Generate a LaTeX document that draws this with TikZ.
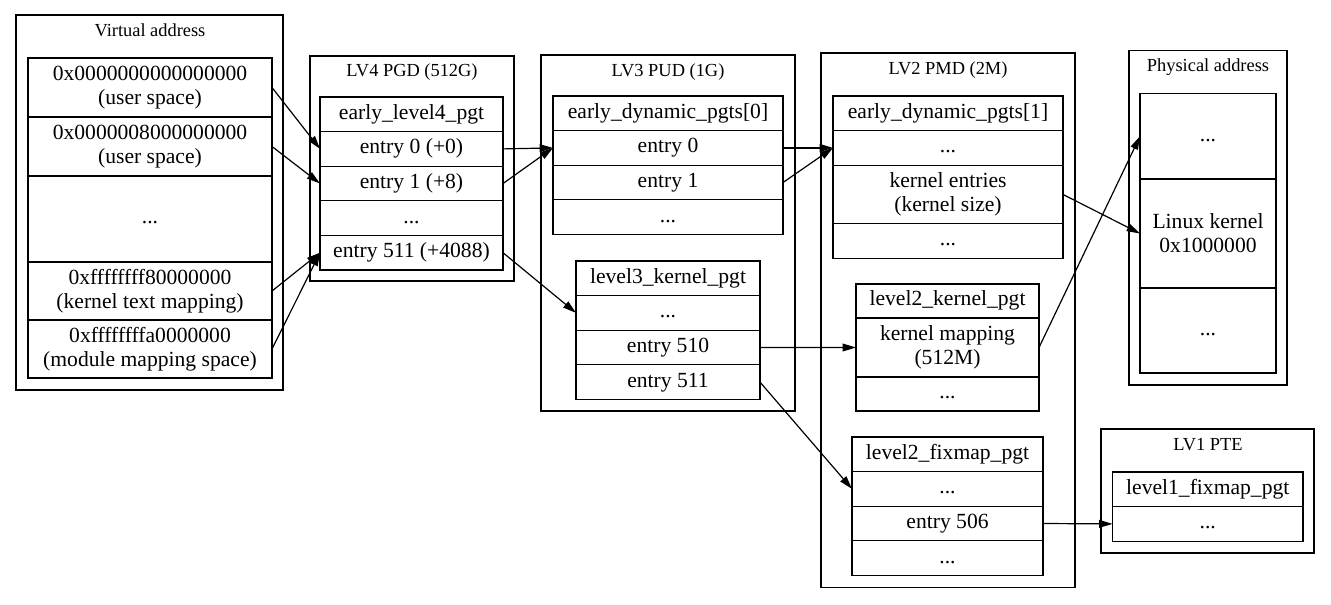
\documentclass[tikz,border=0pt]{standalone}
\usepackage{fontspec}
\setmainfont{Liberation Serif}
\usetikzlibrary{fit,positioning,arrows.meta}
\tikzset{
  cell/.style={draw, inner sep=0pt, outer sep=0pt, align=center, minimum height=34.6*0.75pt,
    text height=11pt, text depth=3.6pt, font=\fontsize{16.2}{18}\selectfont},
  two/.style={text height=, text depth=},
  rec/.style={minimum width=#1*0.75pt},
  tall/.style={minimum height=#1*0.75pt},
  frame/.style={draw, inner sep=0pt},
  title/.style={anchor=base, font=\fontsize{13.8}{16}\selectfont},
  link/.style={-{Triangle[length=10pt,width=5.8pt]}},
}
\begin{document}
\begin{tikzpicture}[x=0.75pt,y=-0.75pt,line width=0.9pt]
                \useasboundingbox (0,0) rectangle (1331,604);
                % virtual address
                \node[frame, fit={(16,15)(283,390)}] (va) {};
                \node[title] (vatitle) at (150,36) {Virtual address};
                \node[cell, two, rec=244, tall=59, anchor=north west] (va0) at (28,58) {0x0000000000000000\\(user space)};
                \node[cell, two, rec=244, tall=59, below=0pt of va0] (va1) {0x0000008000000000\\(user space)};
                \node[cell, rec=244, tall=86, below=0pt of va1] (vadots) {...};
                \node[cell, two, rec=244, tall=58, below=0pt of vadots] (vatext) {0xffffffff80000000\\(kernel text mapping)};
                \node[cell, two, rec=244, tall=58, below=0pt of vatext] (vamod) {0xffffffffa0000000\\(module mapping space)};
                % LV4 PGD
                \node[frame, fit={(310,56)(514,281)}] (lv4) {};
                \node[title] (lv4title) at (412,76) {LV4 PGD (512G)};
                \node[cell, rec=183, anchor=north west] (l4head) at (320,97) {early\_level4\_pgt};
                \node[cell, rec=183, below=0pt of l4head] (l4e0) {entry 0 (+0)};
                \node[cell, rec=183, below=0pt of l4e0] (l4e1) {entry 1 (+8)};
                \node[cell, rec=183, below=0pt of l4e1] (l4dots) {...};
                \node[cell, rec=183, below=0pt of l4dots] (l4e511) {entry 511 (+4088)};
                % LV3 PUD
                \node[frame, fit={(541,55)(795,411)}] (lv3) {};
                \node[title] (lv3title) at (668,76) {LV3 PUD (1G)};
                \node[cell, rec=230, anchor=north west] (l3head) at (553,96) {early\_dynamic\_pgts[0]};
                \node[cell, rec=230, below=0pt of l3head] (l3e0) {entry 0};
                \node[cell, rec=230, below=0pt of l3e0] (l3e1) {entry 1};
                \node[cell, rec=230, below=0pt of l3e1] (l3dots) {...};
                \node[cell, rec=184, anchor=north west] (k3head) at (576,261) {level3\_kernel\_pgt};
                \node[cell, rec=184, below=0pt of k3head] (k3dots) {...};
                \node[cell, rec=184, below=0pt of k3dots] (k3e510) {entry 510};
                \node[cell, rec=184, below=0pt of k3e510] (k3e511) {entry 511};
                % LV2 PMD
                \node[frame, fit={(821,53)(1075,587.5)}] (lv2) {};
                \node[title] (lv2title) at (948,74) {LV2 PMD (2M)};
                \node[cell, rec=230, anchor=north west] (l2head) at (833,96) {early\_dynamic\_pgts[1]};
                \node[cell, rec=230, below=0pt of l2head] (l2dots) {...};
                \node[cell, two, rec=230, tall=58.5, below=0pt of l2dots] (l2kern) {kernel entries\\(kernel size)};
                \node[cell, rec=230, below=0pt of l2kern] (l2dots2) {...};
                \node[cell, rec=183, tall=34, anchor=north west] (k2head) at (856,284) {level2\_kernel\_pgt};
                \node[cell, two, rec=183, tall=59, below=0pt of k2head] (k2map) {kernel mapping\\(512M)};
                \node[cell, rec=183, tall=34, below=0pt of k2map] (k2dots) {...};
                \node[cell, rec=191, anchor=north west] (f2head) at (852,437) {level2\_fixmap\_pgt};
                \node[cell, rec=191, below=0pt of f2head] (f2dots) {...};
                \node[cell, rec=191, below=0pt of f2dots] (f2e506) {entry 506};
                \node[cell, rec=191, below=0pt of f2e506] (f2dots2) {...};
                % physical address
                \node[frame, fit={(1129,50.5)(1287,385)}] (pa) {};
                \node[title] (patitle) at (1208,71) {Physical address};
                \node[cell, rec=136, tall=85.5, anchor=north west] (padots) at (1140,93.5) {...};
                \node[cell, two, rec=136, tall=109, below=0pt of padots] (pakern) {Linux kernel\\0x1000000};
                \node[cell, rec=136, tall=85, below=0pt of pakern] (padots2) {...};
                % LV1 PTE
                \node[frame, fit={(1101,429)(1314,553)}] (lv1) {};
                \node[title] (lv1title) at (1208,450) {LV1 PTE};
                \node[cell, rec=190.5, anchor=north west] (f1head) at (1112.5,472) {level1\_fixmap\_pgt};
                \node[cell, rec=190.5, below=0pt of f1head] (f1dots) {...};
                % links
                \draw[link] (va0.east) -- (l4e0.west);
                \draw[link] (va1.east) -- (l4e1.west);
                \draw[link] (vatext.east) -- (l4e511.west);
                \draw[link] (vamod.east) -- (l4e511.west);
                \draw[link] (l4e0.east) -- (l3e0.west);
                \draw[link] (l4e1.east) -- (l3e0.west);
                \draw[link] (l4e511.east) -- (k3dots.west);
                \draw[link] (l3e0.east) -- (l2dots.west);
                \draw[link] (l3e1.east) -- (l2dots.west);
                \draw[link] (k3e510.east) -- (k2map.west);
                \draw[link] (k3e511.east) -- (f2dots.west);
                \draw[link] (l2kern.east) -- (pakern.west);
                \draw[link] (k2map.east) -- (padots.west);
                \draw[link] (f2e506.east) -- (f1dots.west);
\end{tikzpicture}
\end{document}
